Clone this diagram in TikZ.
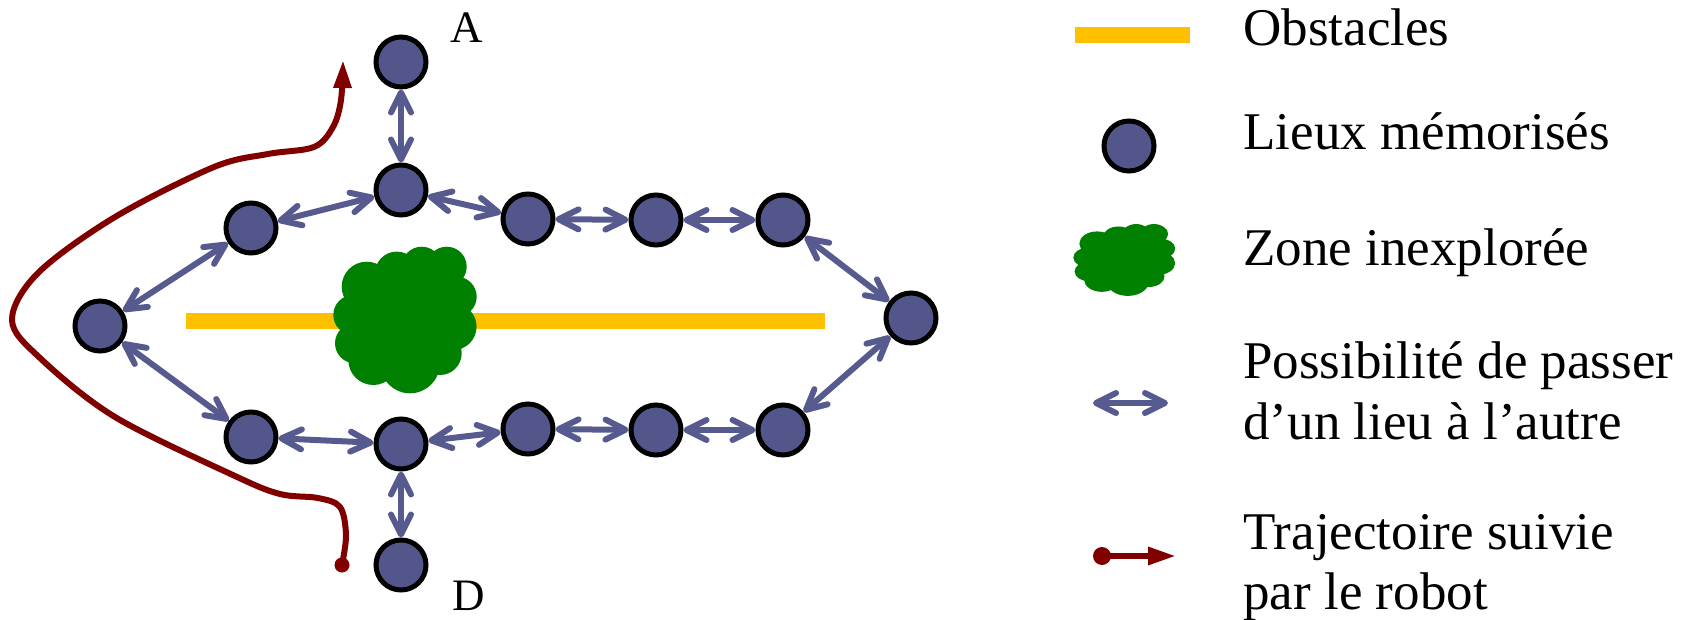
\documentclass[tikz,border=0pt]{standalone}
\usepackage{fontspec}
\setmainfont{Liberation Serif}
\usetikzlibrary{arrows.meta}
\definecolor{placeblue}{RGB}{82,86,138}
\definecolor{linkblue}{RGB}{87,90,143}
\definecolor{obstyellow}{RGB}{255,192,0}
\definecolor{cloudgreen}{RGB}{0,128,0}
\definecolor{robotred}{RGB}{128,0,0}
\tikzset{
  place/.style={circle, draw=black, line width=2.5pt, fill=placeblue, minimum size=25pt, inner sep=0pt},
  link/.style={draw=linkblue, line width=3pt, line cap=round,
     {Straight Barb[length=10pt,width=10pt,round]}-{Straight Barb[length=10pt,width=10pt,round]}},
  obstacle/.style={draw=obstyellow, line width=8pt},
  zonefill/.style={fill=cloudgreen},
  robot/.style={draw=robotred, line width=3pt, -{Triangle[length=14pt,width=8.5pt]}},
  robotdot/.style={circle, fill=robotred, draw=none, minimum size=7.5pt, inner sep=0pt},
  letter/.style={font=\fontsize{22.5}{26}\selectfont, inner sep=0pt},
  legtext/.style={font=\fontsize{26.5}{30}\selectfont, inner sep=0pt, anchor=base west},
}
\newcommand{\zonecloud}{%
  \fill[zonefill] (-39.3,-33.3) circle[radius=25] (-9.3,-46.7) circle[radius=21.7]
    (15.7,-53.3) circle[radius=20] (40.7,-53.3) circle[radius=20]
    (50.7,-23.3) circle[radius=20] (47.3,6.7) circle[radius=23.3]
    (34,33.3) circle[radius=21.7] (4,43.3) circle[radius=30]
    (-32.7,40) circle[radius=25] (-51,23.3) circle[radius=20]
    (-52.7,-5) circle[radius=20] (-2.7,0) circle[radius=50];}
\begin{document}
\begin{tikzpicture}[x=0.5pt, y=-0.5pt]
\useasboundingbox (0,0) rectangle (1687,620);
% obstacle and unexplored zone
\coordinate (obsL) at (186,321);
\coordinate (obsR) at (825,321);
\draw[obstacle] (obsL) -- (obsR);
\begin{scope}[shift={(406,320)}]
  \zonecloud
\end{scope}
% places
\node[place] (A) at (401,62) {};
\node[place] (T) at (401,190) {};
\node[place] (UL) at (251,228) {};
\node[place] (R1) at (528,219) {};
\node[place] (R2) at (656,220) {};
\node[place] (R3) at (783,220) {};
\node[place] (L) at (100,326) {};
\node[place] (LL) at (251,437) {};
\node[place] (B) at (401,444) {};
\node[place] (S1) at (528,429) {};
\node[place] (S2) at (656,430) {};
\node[place] (S3) at (783,430) {};
\node[place] (RT) at (911,318) {};
\node[place] (D) at (401,565) {};
\node[letter] (labA) at (467,28) {A};
\node[letter] (labD) at (469,596) {D};
% links
\draw[link] (A) -- (T);
\draw[link] (T) -- (UL);
\draw[link] (T) -- (R1);
\draw[link] (R1) -- (R2);
\draw[link] (R2) -- (R3);
\draw[link] (R3) -- (RT);
\draw[link] (UL) -- (L);
\draw[link] (L) -- (LL);
\draw[link] (LL) -- (B);
\draw[link] (B) -- (S1);
\draw[link] (S1) -- (S2);
\draw[link] (S2) -- (S3);
\draw[link] (S3) -- (RT);
\draw[link] (B) -- (D);
% robot trajectory
\node[robotdot] (start) at (342,565) {};
\draw[robot] plot[smooth, tension=0.55] coordinates {(342,565) (346,535) (340,507) (318,498) (280,494) (235,476) (115,417) (40,358) (12,320) (38,273) (115,217) (214,167) (268,154) (314,147) (333,127) (341,100) (343,60)};
% legend
\coordinate (legObsL) at (1075,35);
\coordinate (legObsR) at (1190,35);
\draw[obstacle] (legObsL) -- (legObsR);
\node[legtext] (t1) at (1243,46) {Obstacles};
\node[place] (legPlace) at (1129,146) {};
\node[legtext] (t2) at (1243,150) {Lieux mémorisés};
\begin{scope}[shift={(1125,260)}, xscale=0.71, yscale=0.49]
  \zonecloud
\end{scope}
\node[legtext] (t3) at (1243,266) {Zone inexplorée};
\coordinate (legLinkL) at (1093,403);
\coordinate (legLinkR) at (1168,403);
\draw[link] (legLinkL) -- (legLinkR);
\node[legtext] (t4a) at (1243,379) {Possibilité de passer};
\node[legtext] (t4b) at (1243,439) {d’un lieu à l’autre};
\node[robotdot, minimum size=9pt] (legDot) at (1102,556) {};
\coordinate (legRobotEnd) at (1176,556);
\draw[robot] (legDot.center) -- (legRobotEnd);
\node[legtext] (t5a) at (1243,549) {Trajectoire suivie};
\node[legtext] (t5b) at (1243,609) {par le robot};
\end{tikzpicture}
\end{document}
